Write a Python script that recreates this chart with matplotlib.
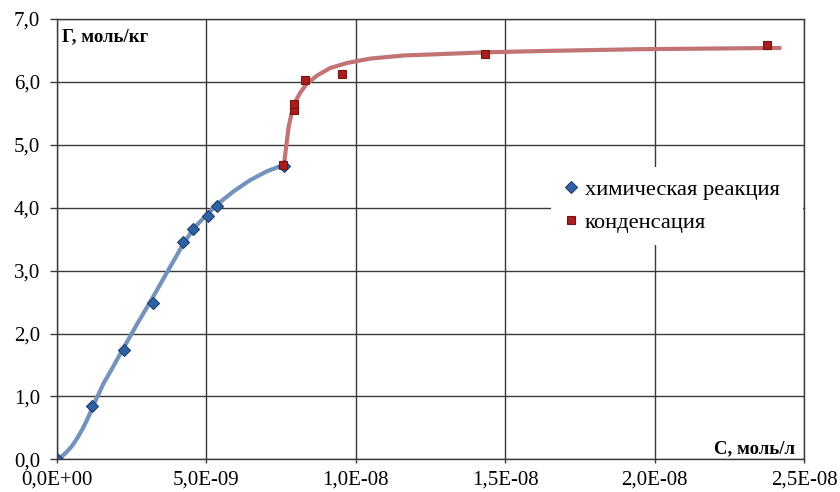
import matplotlib
matplotlib.use("Agg")
import matplotlib.pyplot as plt
from matplotlib.ticker import FuncFormatter, MultipleLocator

plt.rcParams['font.family'] = ['Liberation Serif', 'DejaVu Serif']

# measured points (C in units of 1e-9 mol/l, Г in mol/kg)
chem_c = [0.0, 1.17, 2.24, 3.20, 4.21, 4.55, 5.04, 5.36, 7.59]
chem_g = [0.0, 0.85, 1.74, 2.49, 3.45, 3.66, 3.87, 4.03, 4.66]
cond_c = [7.57, 7.94, 7.94, 8.31, 9.54, 14.34, 23.76]
cond_g = [4.68, 5.56, 5.65, 6.03, 6.12, 6.45, 6.59]

# smooth curves
chem_curve_c = [0.0, 0.15, 0.33, 0.50, 0.67, 0.84, 1.0, 1.22, 1.56, 1.84, 2.24, 2.68,
                3.20, 3.68, 4.21, 4.57, 5.02, 5.33, 5.91, 6.47, 7.03, 7.64]
chem_curve_g = [0.0, 0.04, 0.12, 0.21, 0.33, 0.47, 0.62, 0.86, 1.21, 1.44, 1.78, 2.15,
                2.57, 2.97, 3.41, 3.67, 3.89, 4.04, 4.26, 4.44, 4.58, 4.69]
cond_curve_c = [7.60, 7.75, 7.86, 7.97, 8.14, 8.36, 8.70, 9.14, 9.70, 10.48, 11.59,
                12.71, 14.32, 16.13, 19.51, 24.19]
cond_curve_g = [4.70, 5.28, 5.52, 5.68, 5.83, 5.97, 6.10, 6.22, 6.30, 6.37, 6.42,
                6.44, 6.47, 6.49, 6.52, 6.54]

labels = ['химическая реакция', 'конденсация']
x_label = 'C, моль/л'
y_label = 'Г, моль/кг'

scale = 1e-9

fig = plt.figure(figsize=(8.4, 4.92), dpi=100)
ax = fig.add_axes([57/840, 1 - 459.3/492, (804-57)/840, (459.3-19)/492])

ax.plot([c*scale for c in chem_curve_c], chem_curve_g, color='#7393bd', lw=3.0,
        solid_joinstyle='round', solid_capstyle='round', zorder=3)
ax.plot([c*scale for c in cond_curve_c], cond_curve_g, color='#c27474', lw=3.0,
        solid_joinstyle='round', solid_capstyle='round', zorder=4)
ax.plot([c*scale for c in chem_c], chem_g, linestyle='none', marker='D', ms=6.5,
        mfc='#2f62a3', mec='#1d3f72', mew=0.8, label=labels[0], zorder=5)
ax.plot([c*scale for c in cond_c], cond_g, linestyle='none', marker='s', ms=5.8,
        mfc='#a81d1d', mec='#7a1212', mew=0.8, label=labels[1], zorder=6)

ax.set_xlim(0, 2.5e-8)
ax.set_ylim(0, 7)
ax.xaxis.set_major_locator(MultipleLocator(5e-9))
ax.yaxis.set_major_locator(MultipleLocator(1))
ax.xaxis.set_major_formatter(FuncFormatter(lambda v, p: f"{v:.1E}".replace('.', ',')))
ax.yaxis.set_major_formatter(FuncFormatter(lambda v, p: f"{v:.1f}".replace('.', ',')))

ax.grid(True, color='#3a3a3a', lw=1.0)
ax.set_axisbelow(True)
for s in ax.spines.values():
    s.set_color('#3a3a3a')
    s.set_linewidth(1.0)
    s.set_zorder(9)
ax.tick_params(axis='x', direction='out', length=3, width=1, color='#3a3a3a',
               labelsize=15, pad=5, labelcolor='black')
ax.tick_params(axis='y', direction='out', length=5, width=1, color='#3a3a3a',
               labelsize=15, pad=7, labelcolor='black')

ax.text(0.007, 0.98, y_label, transform=ax.transAxes, ha='left', va='top',
        fontsize=13.5, fontweight='bold', zorder=7,
        bbox=dict(facecolor='white', edgecolor='none', pad=1))
ax.text(0.988, 0.014, x_label, transform=ax.transAxes, ha='right', va='baseline',
        fontsize=13.5, fontweight='bold', zorder=7)

leg = ax.legend(loc='upper left', bbox_to_anchor=(0.661, 0.475, 0.337, 0.19),
                mode='expand', frameon=True,
                fancybox=False, edgecolor='none', facecolor='white', framealpha=1,
                fontsize=16.2, handlelength=0.7, handletextpad=0.25, labelspacing=0.55,
                borderpad=0.55, borderaxespad=0)
leg.set_zorder(8)

fig.savefig('out.png', dpi=100)
